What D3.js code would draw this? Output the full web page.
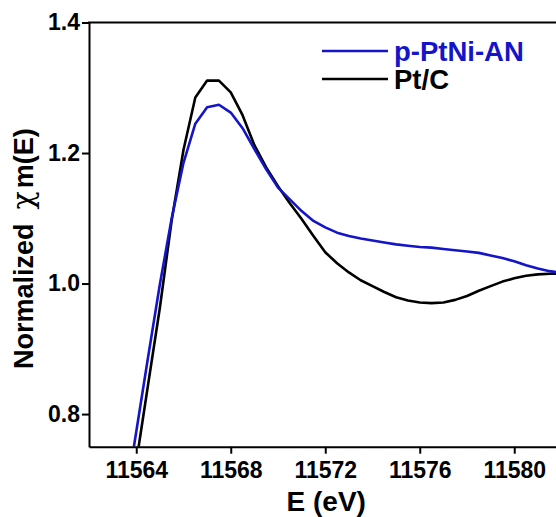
<!DOCTYPE html>
<html>
<head>
<meta charset="utf-8">
<script src="https://cdn.jsdelivr.net/npm/d3@7"></script>
<style>
html,body{margin:0;padding:0;background:#fff;}
svg{display:block;}
text{font-family:"Liberation Sans",Arial,sans-serif;font-weight:bold;}
</style>
</head>
<body>
<svg id="chart" width="556" height="517"></svg>
<script>
// Data
const energyPtC = [11564.1,11564.5,11565.0,11565.5,11566.0,11566.5,11567.0,11567.5,11568.0,11568.5,11569.0,11569.5,11570.0,11570.5,11571.0,11571.5,11572.0,11572.5,11573.0,11573.5,11574.0,11574.5,11575.0,11575.5,11576.0,11576.5,11577.0,11577.5,11578.0,11578.5,11579.0,11579.5,11580.0,11580.5,11581.0,11581.5,11582.0];
const valuesPtC  = [0.750,0.845,0.963,1.097,1.205,1.285,1.311,1.311,1.293,1.258,1.212,1.178,1.149,1.123,1.099,1.073,1.048,1.031,1.017,1.005,0.996,0.987,0.979,0.974,0.971,0.970,0.971,0.975,0.981,0.989,0.996,1.003,1.008,1.012,1.014,1.015,1.015];
const energyPtNi = [11563.9,11564.5,11565.0,11565.5,11566.0,11566.5,11567.0,11567.5,11568.0,11568.5,11569.0,11569.5,11570.0,11570.5,11571.0,11571.5,11572.0,11572.5,11573.0,11573.5,11574.0,11574.5,11575.0,11575.5,11576.0,11576.5,11577.0,11577.5,11578.0,11578.5,11579.0,11579.5,11580.0,11580.5,11581.0,11581.5,11582.0];
const valuesPtNi = [0.750,0.887,0.999,1.100,1.185,1.245,1.270,1.274,1.262,1.238,1.206,1.175,1.147,1.129,1.111,1.096,1.086,1.078,1.073,1.069,1.066,1.063,1.060,1.058,1.056,1.055,1.053,1.051,1.049,1.047,1.043,1.039,1.034,1.028,1.023,1.019,1.016];
const xTicks = [11564,11568,11572,11576,11580];
const yTicks = [0.8,1.0,1.2,1.4];
const seriesNames = ["p-PtNi-AN","Pt/C"];
const seriesColors = ["#1414c8","#000000"];

const svg = d3.select("#chart");
const pLeft = 89, pRight = 561.5, pTop = 22.5, pBottom = 446.7;
const x = d3.scaleLinear().domain([11562,11582]).range([pLeft,pRight]);
const y = d3.scaleLinear().domain([0.75,1.4]).range([pBottom,pTop]);

svg.append("defs").append("clipPath").attr("id","clip")
  .append("rect").attr("x",pLeft).attr("y",pTop).attr("width",pRight-pLeft).attr("height",pBottom-pTop);

const line = d3.line().x(d=>x(d[0])).y(d=>y(d[1]));
const seriesData = [
  d3.zip(energyPtNi, valuesPtNi),
  d3.zip(energyPtC, valuesPtC)
];
svg.append("path").datum(seriesData[1]).attr("clip-path","url(#clip)")
  .attr("fill","none").attr("stroke",seriesColors[1]).attr("stroke-width",2.6)
  .attr("stroke-linejoin","round").attr("d",line);
svg.append("path").datum(seriesData[0]).attr("clip-path","url(#clip)")
  .attr("fill","none").attr("stroke",seriesColors[0]).attr("stroke-width",2.6)
  .attr("stroke-linejoin","round").attr("d",line);

// axes
const xAxis = svg.append("g").attr("transform",`translate(0,${pBottom})`)
  .call(d3.axisBottom(x).tickValues(xTicks).tickFormat(d3.format("d")).tickSizeInner(7).tickSizeOuter(0).tickPadding(8));
const yAxis = svg.append("g").attr("transform",`translate(${pLeft},0)`)
  .call(d3.axisLeft(y).tickValues(yTicks).tickFormat(d3.format(".1f")).tickSizeInner(7).tickSizeOuter(0).tickPadding(2));
[xAxis,yAxis].forEach(g=>{
  g.select(".domain").attr("stroke","#000").attr("stroke-width",2);
  g.selectAll(".tick line").attr("stroke","#000").attr("stroke-width",2);
  g.selectAll(".tick text").attr("fill","#000").style("font-size","23px")
   .style("font-family","'Liberation Sans',Arial,sans-serif").style("font-weight","bold");
});
// top frame
svg.append("line").attr("x1",pLeft-1).attr("x2",pRight).attr("y1",pTop).attr("y2",pTop)
  .attr("stroke","#000").attr("stroke-width",2);
svg.append("line").attr("x1",pRight).attr("x2",pRight).attr("y1",pTop).attr("y2",pBottom)
  .attr("stroke","#000").attr("stroke-width",2);

// axis titles
svg.append("text").attr("x",x(11572)+1).attr("y",511).attr("text-anchor","middle")
  .style("font-size","28px").text("E (eV)");
const yTitle = svg.append("text").attr("transform","translate(33,369) rotate(-90)").attr("text-anchor","start")
  .style("font-size","27px");
yTitle.append("tspan").text("Normalized");
yTitle.append("tspan").attr("dx",14).style("font-size","30px").style("font-weight","normal")
  .style("font-family","'DejaVu Serif',serif").text("\u03C7");
yTitle.append("tspan").attr("dx",3).text("m(E)");

// legend
const legendRows = [51,79];
seriesNames.forEach((name,i)=>{
  svg.append("line").attr("x1",322).attr("x2",388).attr("y1",legendRows[i]).attr("y2",legendRows[i])
    .attr("stroke",seriesColors[i]).attr("stroke-width",2.6);
  svg.append("text").attr("x",394).attr("y",legendRows[i]).attr("dy","0.35em")
    .attr("fill",seriesColors[i]).style("font-size","27.5px").text(name);
});
</script>
</body>
</html>
